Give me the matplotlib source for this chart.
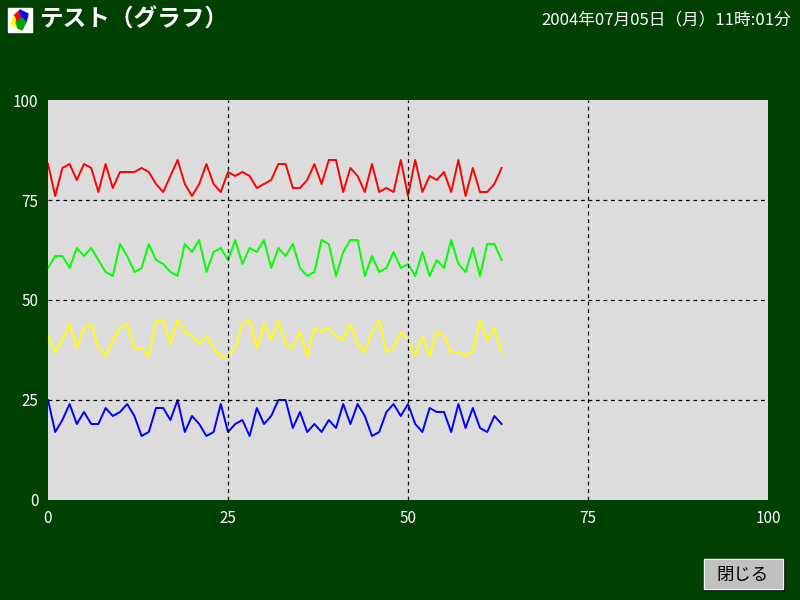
import matplotlib
matplotlib.use('Agg')
import matplotlib.pyplot as plt
from matplotlib.patches import Rectangle, Polygon

plt.rcParams['font.family'] = ['Noto Sans CJK JP', 'DejaVu Sans']

# data (64 samples per series)
red = [84, 76, 83, 84, 80, 84, 83, 77, 84, 78, 82, 82, 82, 83, 82, 79,
       77, 81, 85, 79, 76, 79, 84, 79, 77, 82, 81, 82, 81, 78, 79, 80,
       84, 84, 78, 78, 80, 84, 79, 85, 85, 77, 83, 81, 77, 84, 77, 78,
       77, 85, 76, 85, 77, 81, 80, 82, 77, 85, 76, 83, 77, 77, 79, 83]
green = [58, 61, 61, 58, 63, 61, 63, 60, 57, 56, 64, 61, 57, 58, 64, 60,
         59, 57, 56, 64, 62, 65, 57, 62, 63, 60, 65, 59, 63, 62, 65, 58,
         63, 61, 64, 58, 56, 57, 65, 64, 56, 62, 65, 65, 56, 61, 57, 58,
         62, 58, 59, 56, 62, 56, 60, 58, 65, 59, 57, 63, 56, 64, 64, 60]
yellow = [41, 37, 40, 44, 38, 43, 44, 38, 36, 40, 43, 44, 38, 38, 36, 45,
          45, 39, 45, 42, 41, 39, 41, 38, 36, 36, 38, 44, 45, 38, 44, 40,
          45, 39, 38, 42, 36, 43, 42, 43, 41, 40, 44, 39, 37, 42, 45, 37,
          38, 42, 40, 36, 41, 36, 42, 41, 37, 37, 36, 37, 45, 40, 43, 37]
blue = [25, 17, 20, 24, 19, 22, 19, 19, 23, 21, 22, 24, 21, 16, 17, 23,
        23, 20, 25, 17, 21, 19, 16, 17, 24, 17, 19, 20, 16, 23, 19, 21,
        25, 25, 18, 22, 17, 19, 17, 20, 18, 24, 19, 24, 21, 16, 17, 22,
        24, 21, 24, 19, 17, 23, 22, 22, 17, 24, 18, 23, 18, 17, 21, 19]
ticks = [0, 25, 50, 75, 100]
title = 'テスト（グラフ）'
stamp = '2004年07月05日（月）11時:01分'

bg = '#004000'
fig = plt.figure(figsize=(8, 6), dpi=100, facecolor=bg)
ax = fig.add_axes([0.06, 1/6, 0.9, 4/6])
ax.set_facecolor('#dcdcdc')

x = list(range(len(red)))
for ys, c in [(red, '#ff0000'), (green, '#00ff00'), (yellow, '#ffff00'), (blue, '#0000ff')]:
    ax.plot(x, ys, color=c, lw=1.4)

ax.set_xlim(0, 100)
ax.set_ylim(0, 100)
ax.set_xticks(ticks)
ax.set_yticks(ticks)
ax.tick_params(colors='white', length=0, labelsize=11, pad=7)
for v in ticks[1:-1]:
    ax.axvline(v, color='black', ls=(0, (3, 3)), lw=0.9)
    ax.axhline(v, color='black', ls=(0, (3, 3)), lw=0.9)
for s in ax.spines.values():
    s.set_visible(False)

# header
fig.text(40 / 800, 1 - 20 / 600, title, color='white', fontsize=17,
         va='center', ha='left', fontweight='bold')
fig.text(791 / 800, 1 - 20 / 600, stamp, color='white', fontsize=12,
         va='center', ha='right')

# small icon
def px(xp, yp):
    return (xp / 800, 1 - yp / 600)

fig.patches.append(Rectangle(px(8, 32), 24 / 800, 24 / 600, color='white',
                             transform=fig.transFigure))
for pts, c in [([(14, 16), (20, 10), (22, 18), (16, 22)], '#ff0000'),
               ([(20, 10), (28, 14), (26, 22), (22, 18)], '#0000ff'),
               ([(14, 16), (16, 22), (18, 28), (11, 24)], '#ffff00'),
               ([(16, 22), (22, 18), (26, 22), (22, 30), (18, 28)], '#00a000')]:
    fig.patches.append(Polygon([px(a, b) for a, b in pts], closed=True,
                               color=c, transform=fig.transFigure))

# close button
fig.patches.append(Rectangle(px(705, 590), 79 / 800, 30 / 600, color='black',
                             transform=fig.transFigure))
fig.patches.append(Rectangle(px(704, 589), 79 / 800, 30 / 600, color='white',
                             transform=fig.transFigure))
fig.patches.append(Rectangle(px(705, 588), 77 / 800, 28 / 600, color='#c0c0c0',
                             transform=fig.transFigure))
fig.text(742 / 800, 1 - 575 / 600, '閉じる', color='black', fontsize=12.5,
         ha='center', va='center')

fig.savefig('out.png', dpi=100, facecolor=bg)
